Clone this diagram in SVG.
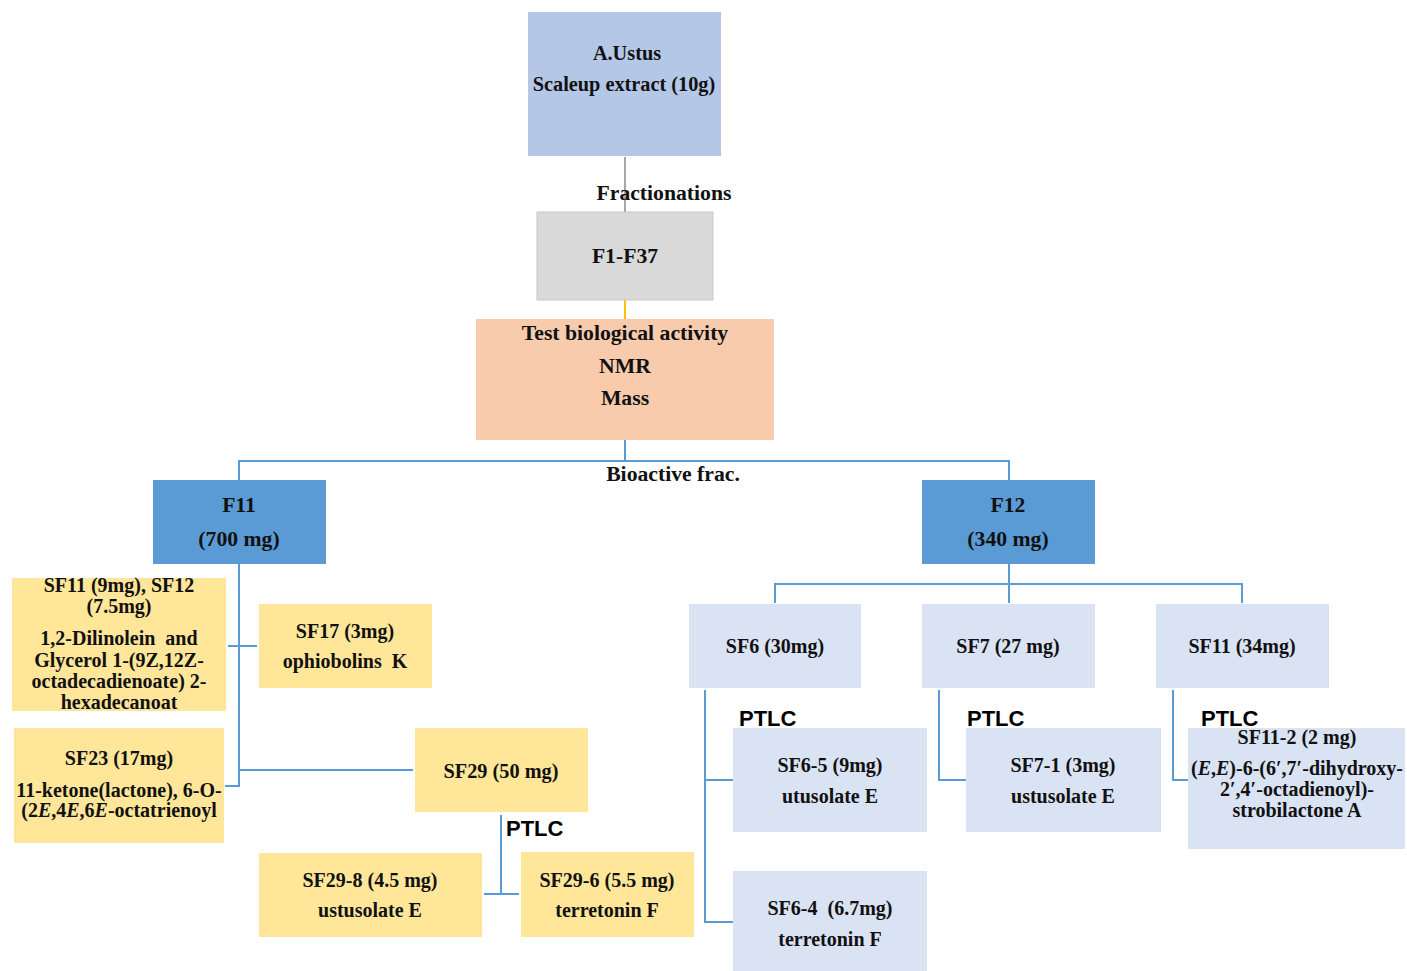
<svg xmlns="http://www.w3.org/2000/svg" width="1407" height="971" viewBox="0 0 1407 971">
  <style>
    .t { font-family: "Liberation Serif", "Times New Roman", serif; font-weight: bold; fill: #111; text-anchor: middle; white-space: pre; }
    .s21 { font-size: 21.7px; }
    .s20 { font-size: 20.3px; }
    .s19 { font-size: 20px; }
    .ptlc { font-family: "Liberation Sans", Arial, sans-serif; font-weight: bold; font-size: 22px; fill: #000; }
    .yellow { fill: #FFE699; }
    .pale { fill: #DAE3F3; }
    .mid { fill: #5B9BD5; }
    .conn { fill: none; stroke: #5B9BD5; stroke-width: 2; }
    .it { font-style: italic; }
  </style>
  <rect width="1407" height="971" fill="#ffffff"/>

  <!-- connectors -->
  <g id="connectors">
    <line x1="625" y1="157" x2="625" y2="212" stroke="#A6A6A6" stroke-width="2"/>
    <line x1="625" y1="300" x2="625" y2="319" stroke="#FFC000" stroke-width="2"/>
    <path class="conn" d="M625 440 V461 M239 480 V461 H1009 V480"/>
    <!-- F11 branch -->
    <path class="conn" d="M239 564 V786 H225 M228 646 H257 M239 770 H413"/>
    <!-- SF29 PTLC -->
    <path class="conn" d="M501 815 V894 M484 894 H519"/>
    <!-- F12 branch -->
    <path class="conn" d="M1009 564 V584 M775 603 V584 H1242 V603 M1009 584 V603"/>
    <path class="conn" d="M705 690 V922 H733 M705 780 H733"/>
    <path class="conn" d="M939 690 V780 H966"/>
    <path class="conn" d="M1173 690 V780 H1188"/>
  </g>

  <g id="extract">
    <rect x="528" y="12" width="193" height="144" fill="#B4C7E7"/>
    <text class="t s20" x="627" y="60">A.Ustus</text>
    <text class="t s20" x="624" y="91">Scaleup extract (10g)</text>
  </g>

  <g id="fractionations-label">
    <text class="t s21" x="664" y="200">Fractionations</text>
  </g>

  <g id="f1-f37">
    <rect x="537" y="212" width="176" height="88" fill="#D9D9D9" stroke="#C8C8C8" stroke-width="1"/>
    <text class="t s21" x="625" y="263">F1-F37</text>
  </g>

  <g id="tests">
    <rect x="476" y="319" width="298" height="121" fill="#F8CBAD"/>
    <text class="t s21" x="625" y="340">Test biological activity</text>
    <text class="t s21" x="625" y="373">NMR</text>
    <text class="t s21" x="625" y="405">Mass</text>
  </g>

  <g id="bioactive-label">
    <text class="t s21" x="673" y="481">Bioactive frac.</text>
  </g>

  <g id="f11">
    <rect class="mid" x="153" y="480" width="173" height="84"/>
    <text class="t s21" x="239" y="512">F11</text>
    <text class="t s21" x="239" y="546">(700 mg)</text>
  </g>

  <g id="f12">
    <rect class="mid" x="922" y="480" width="173" height="84"/>
    <text class="t s21" x="1008" y="512">F12</text>
    <text class="t s21" x="1008" y="546">(340 mg)</text>
  </g>

  <g id="sf11-sf12">
    <rect class="yellow" x="12" y="578" width="214" height="133"/>
    <text class="t s19" x="119" y="592">SF11 (9mg), SF12</text>
    <text class="t s19" x="119" y="613">(7.5mg)</text>
    <text class="t s19" x="119" y="645">1,2-Dilinolein  and</text>
    <text class="t s19" x="119" y="667">Glycerol 1-(9Z,12Z-</text>
    <text class="t s19" x="119" y="688">octadecadienoate) 2-</text>
    <text class="t s19" x="119" y="709">hexadecanoat</text>
  </g>

  <g id="sf17">
    <rect class="yellow" x="259" y="604" width="173" height="84"/>
    <text class="t s19" x="345" y="638">SF17 (3mg)</text>
    <text class="t s19" x="345" y="668">ophiobolins  K</text>
  </g>

  <g id="sf23">
    <rect class="yellow" x="14" y="728" width="210" height="115"/>
    <text class="t s19" x="119" y="765">SF23 (17mg)</text>
    <text class="t s19" x="119" y="797">11-ketone(lactone), 6-O-</text>
    <text class="t s19" x="119" y="817">(2<tspan class="it">E</tspan>,4<tspan class="it">E</tspan>,6<tspan class="it">E</tspan>-octatrienoyl</text>
  </g>

  <g id="sf29">
    <rect class="yellow" x="415" y="728" width="173" height="84"/>
    <text class="t s20" x="501" y="778">SF29 (50 mg)</text>
    <text class="ptlc" x="506" y="836">PTLC</text>
  </g>

  <g id="sf29-8">
    <rect class="yellow" x="259" y="853" width="223" height="84"/>
    <text class="t s19" x="370" y="887">SF29-8 (4.5 mg)</text>
    <text class="t s19" x="370" y="917">ustusolate E</text>
  </g>

  <g id="sf29-6">
    <rect class="yellow" x="521" y="852" width="173" height="85"/>
    <text class="t s19" x="607" y="887">SF29-6 (5.5 mg)</text>
    <text class="t s19" x="607" y="917">terretonin F</text>
  </g>

  <g id="sf6">
    <rect class="pale" x="689" y="604" width="172" height="84"/>
    <text class="t s19" x="775" y="653">SF6 (30mg)</text>
    <text class="ptlc" x="739" y="726">PTLC</text>
  </g>

  <g id="sf7">
    <rect class="pale" x="922" y="604" width="173" height="84"/>
    <text class="t s19" x="1008" y="653">SF7 (27 mg)</text>
    <text class="ptlc" x="967" y="726">PTLC</text>
  </g>

  <g id="sf11-34">
    <rect class="pale" x="1156" y="604" width="173" height="84"/>
    <text class="t s19" x="1242" y="653">SF11 (34mg)</text>
    <text class="ptlc" x="1201" y="726">PTLC</text>
  </g>

  <g id="sf6-5">
    <rect class="pale" x="733" y="728" width="194" height="104"/>
    <text class="t s19" x="830" y="772">SF6-5 (9mg)</text>
    <text class="t s19" x="830" y="803">utusolate E</text>
  </g>

  <g id="sf6-4">
    <rect class="pale" x="733" y="871" width="194" height="100"/>
    <text class="t s19" x="830" y="915">SF6-4  (6.7mg)</text>
    <text class="t s19" x="830" y="946">terretonin F</text>
  </g>

  <g id="sf7-1">
    <rect class="pale" x="966" y="728" width="195" height="104"/>
    <text class="t s19" x="1063" y="772">SF7-1 (3mg)</text>
    <text class="t s19" x="1063" y="803">ustusolate E</text>
  </g>

  <g id="sf11-2">
    <rect class="pale" x="1188" y="728" width="217" height="121"/>
    <text class="t s19" x="1297" y="744">SF11-2 (2 mg)</text>
    <text class="t s19" x="1297" y="775">(<tspan class="it">E</tspan>,<tspan class="it">E</tspan>)-6-(6′,7′-dihydroxy-</text>
    <text class="t s19" x="1297" y="796">2′,4′-octadienoyl)-</text>
    <text class="t s19" x="1297" y="817">strobilactone A</text>
  </g>
</svg>
